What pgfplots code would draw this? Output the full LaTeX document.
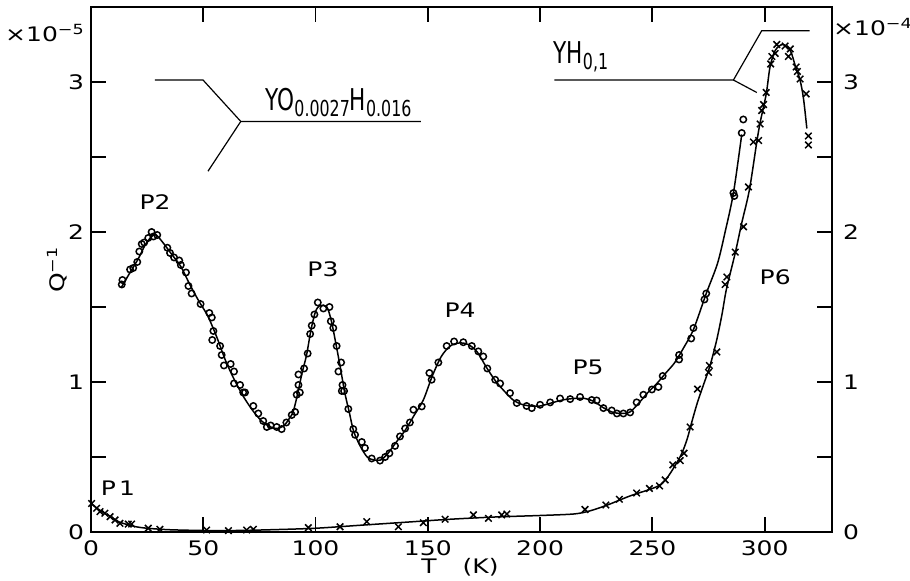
\documentclass[border=0pt]{standalone}
\usepackage{pgfplots}
\pgfplotsset{compat=1.18}
\usepackage{fontspec}
\setmainfont{DejaVu Sans}[FakeStretch=1.25]
\newfontfamily\formf{DejaVu Sans}[FakeStretch=0.72]

\begin{document}
\begin{tikzpicture}
\pgfplotsset{
  common/.style={
    width=370.5pt, height=262.5pt, scale only axis,
    xmin=0, xmax=330, ymin=0, ymax=3.5,
    ytick={0,0.5,...,3}, yticklabels={0,,1,,2,,3},
    tick align=inside, major tick length=7.5pt,
    tick style={line width=0.9pt, black},
    axis line style={line width=1pt},
    ticklabel style={font=\fontsize{10}{10}\selectfont},
    /pgf/number format/assume math mode=true,
  }
}
% Y O_0.0027 H_0.016 (left scale, x 10^-5)
\begin{axis}[common, name=ax,
    xtick={0,50,...,300}, xtick pos=both, xticklabel pos=lower,
    ytick pos=left,
    xticklabel style={yshift=-1pt}]
\addplot[smooth, tension=0.5, line width=0.75pt] coordinates {
(13.5,1.63)(17,1.72)(21,1.82)(24,1.91)(27,1.97)(29,1.98)(32,1.93)(36,1.85)
(40,1.77)(44,1.65)(48,1.54)(52,1.44)(56,1.30)(60,1.14)(64,1.01)(68,0.90)
(72,0.81)(76,0.74)(80,0.70)(83,0.69)(86,0.71)(88,0.75)(90,0.80)(92,0.92)
(94,1.06)(96,1.18)(98,1.35)(100,1.47)(102,1.51)(105,1.50)(107,1.41)(109,1.26)
(111,1.10)(113,0.93)(115,0.80)(117,0.67)(120,0.57)(123,0.50)(126,0.48)(129,0.48)
(132,0.52)(136,0.60)(140,0.68)(144,0.78)(148,0.88)(152,1.04)(156,1.17)(160,1.24)
(164,1.26)(168,1.25)(172,1.20)(176,1.10)(180,1.01)(184,0.94)(188,0.88)(192,0.85)
(196,0.84)(200,0.84)(205,0.86)(210,0.88)(215,0.89)(220,0.89)(224,0.87)(228,0.83)
(232,0.80)(236,0.79)(240,0.80)(244,0.86)(248,0.93)(252,0.99)(256,1.06)(260,1.13)
(264,1.23)(268.3,1.35)(274,1.59)(279,1.79)(282.4,2.0)(286.1,2.26)(289.8,2.65)
};
\addplot[only marks, mark=o, mark size=1.6pt, mark options={line width=0.75pt}] coordinates {
(13.7,1.65)(14,1.68)(17.4,1.75)(18.8,1.76)(20.6,1.80)(21.5,1.87)(22.6,1.92)(23.7,1.93)
(25.5,1.96)(27,2.0)(27.8,1.97)(29.5,1.98)(34,1.895)(35.2,1.86)(37,1.83)(39.3,1.81)
(40,1.78)(42.3,1.73)(43.4,1.64)(44.8,1.59)(48.8,1.52)(52.7,1.46)(53.8,1.43)(54.5,1.34)
(54,1.28)(57.5,1.24)(58.2,1.18)(59.2,1.11)(62.2,1.12)(63.7,1.07)(63.7,0.99)(66.4,0.98)
(67.8,0.93)(68.6,0.93)(72.3,0.84)(74.5,0.79)(76.7,0.74)(78.3,0.70)(80,0.71)(82.7,0.70)
(84.9,0.686)(87,0.73)(89.4,0.78)(90.9,0.80)(93,0.93)(91.6,0.915)(92.4,0.98)(92.4,1.05)
(94.9,1.09)(96.5,1.19)(97.6,1.32)(98.3,1.376)(99.5,1.45)(101,1.53)(103.5,1.49)(106.2,1.50)
(106.8,1.405)(107.9,1.36)(109.4,1.24)(111.4,1.13)(110.2,1.07)(112,0.98)(112.7,0.94)(111.7,0.94)
(114.6,0.82)(116.8,0.686)(117.6,0.648)(120.6,0.60)(122,0.56)(125,0.49)(128.7,0.476)(131,0.50)
(132.9,0.525)(135.4,0.574)(137.6,0.637)(139.9,0.69)(142,0.73)(143.6,0.815)(147.3,0.837)(150.7,1.06)
(151.7,1.015)(154.7,1.13)(158.4,1.24)(161.7,1.27)(165.8,1.265)(169.6,1.24)(172.5,1.204)(174.7,1.17)
(176.5,1.09)(180,1.015)(182.2,0.99)(186.6,0.926)(189.6,0.86)(194,0.84)(196.3,0.826)(200,0.848)
(204.5,0.864)(208.9,0.89)(213.4,0.886)(217.8,0.90)(223,0.88)(225.2,0.877)(228.2,0.826)(231.9,0.81)
(234.2,0.79)(237.1,0.79)(240.1,0.797)(243,0.864)(246,0.915)(249.8,0.95)(252.7,0.967)(254.6,1.04)
(261.9,1.18)(261.9,1.15)(267.3,1.29)(268.3,1.36)(273.2,1.55)(274,1.59)(286.1,2.26)(286.5,2.24)
(289.8,2.66)(290.5,2.75)
};
% peak labels
\node[font=\fontsize{10}{10}\selectfont] at (axis cs:12,0.29) {P\,1};
\node[font=\fontsize{10}{10}\selectfont] at (axis cs:28.5,2.2) {P2};
\node[font=\fontsize{10}{10}\selectfont] at (axis cs:103.3,1.75) {P3};
\node[font=\fontsize{10}{10}\selectfont] at (axis cs:164.4,1.48) {P4};
\node[font=\fontsize{10}{10}\selectfont] at (axis cs:221.4,1.10) {P5};
\node[font=\fontsize{10}{10}\selectfont] at (axis cs:304.7,1.70) {P6};
% sample labels
\draw[line width=0.6pt] (axis cs:28.5,3.013) -- (axis cs:49.9,3.013) -- (axis cs:66.7,2.737) -- (axis cs:146.9,2.737);
\draw[line width=0.6pt] (axis cs:66.7,2.737) -- (axis cs:52.1,2.405);
\node[anchor=base west, inner sep=0pt] at (axis cs:77.5,2.81)
  {\formf\fontsize{15}{15}\selectfont YO\raisebox{-3pt}{\fontsize{11}{11}\selectfont 0.0027}H\raisebox{-3pt}{\fontsize{11}{11}\selectfont 0.016}};
\draw[line width=0.6pt] (axis cs:206.4,3.013) -- (axis cs:286.1,3.013) -- (axis cs:298.7,3.342) -- (axis cs:320,3.342);
\draw[line width=0.6pt] (axis cs:286.1,3.013) -- (axis cs:296.5,2.93);
\node[anchor=base west, inner sep=0pt] at (axis cs:205.8,3.12)
  {\formf\fontsize{15}{15}\selectfont YH\raisebox{-3pt}{\fontsize{11}{11}\selectfont 0,1}};
\end{axis}
% Y H_0.1 (right scale, x 10^-4)
\begin{axis}[common, hide x axis,
    ytick pos=right, yticklabel pos=right,
    yticklabel style={xshift=2pt}]
\addplot[smooth, tension=0.5, line width=0.75pt] coordinates {
(0,0.19)(3,0.155)(6,0.125)(9,0.10)(12,0.07)(16,0.05)(20,0.035)(25,0.025)(35,0.015)
(50,0.01)(65,0.01)(80,0.015)(100,0.025)(120,0.045)(140,0.065)(160,0.085)(180,0.10)
(200,0.11)(215,0.12)(222,0.14)(230,0.18)(240,0.24)(250,0.29)(254,0.32)(257,0.37)
(260,0.44)(263,0.52)(265.5,0.62)(267.5,0.73)(270,0.86)(272.5,0.97)(275.5,1.10)
(278.5,1.27)(281,1.45)(283,1.62)(286.9,1.86)(289.8,2.06)(293.2,2.28)(296.5,2.60)
(298,2.73)(300.7,2.92)(302.4,3.10)(304.7,3.21)(308,3.25)(311.4,3.21)(313.6,3.11)
(315.8,3.01)(317.3,2.89)(318.8,2.69)
};
\addplot[only marks, mark=x, mark size=2.3pt, mark options={line width=0.75pt}] coordinates {
(0.3,0.19)(2.5,0.158)(4,0.136)(6.2,0.125)(8.5,0.102)(10.7,0.08)(12.9,0.058)(16.6,0.053)
(18.1,0.053)(25.5,0.025)(30.7,0.018)(51.5,0.013)(61.2,0.009)(69.3,0.013)(72.3,0.018)(96.8,0.029)
(110.9,0.035)(122.8,0.069)(136.9,0.035)(148,0.062)(157.7,0.085)(170.3,0.114)(177,0.091)(182.9,0.114)
(185.2,0.12)(220,0.15)(229.3,0.18)(235.3,0.218)(243,0.26)(248.7,0.29)(253.2,0.307)(255.7,0.347)
(259.1,0.447)(262.4,0.476)(264.1,0.525)(266.8,0.70)(270.1,0.953)(275,1.064)(275.4,1.11)(278.7,1.20)
(282.4,1.65)(283.2,1.70)(286.9,1.866)(290.6,2.035)(292.8,2.30)(295,2.60)(297.3,2.61)(298,2.72)
(298.7,2.81)(299.5,2.85)(300.7,2.93)(302.7,3.12)(303.2,3.17)(304.7,3.19)(305.4,3.25)(309.1,3.24)
(310.6,3.17)(311.4,3.22)(314,3.10)(314.6,3.07)(315.8,3.02)(318.5,2.92)(319.5,2.64)(319.5,2.58)
};
\end{axis}
% axis titles and scale factors
\node[font=\fontsize{10}{10}\selectfont] at ([xshift=-23pt,yshift=-13pt]ax.north west) {×10\textsuperscript{−5}};
\node[font=\fontsize{10}{10}\selectfont] at ([xshift=20.5pt,yshift=-10pt]ax.north east) {×10\textsuperscript{−4}};
\node[font=\fontsize{10}{10}\selectfont, rotate=90] at ([xshift=-17pt]ax.west) {Q\textsuperscript{−1}};
\node[font=\fontsize{10}{10}\selectfont] at ([xshift=184.5pt,yshift=-17.5pt]ax.south west) {T\hspace{1.3em}(K)};
\pgfresetboundingbox
\path ([xshift=-45.5pt,yshift=-24.5pt]ax.south west) rectangle ([xshift=39pt,yshift=3.5pt]ax.north east);
\end{tikzpicture}
\end{document}
